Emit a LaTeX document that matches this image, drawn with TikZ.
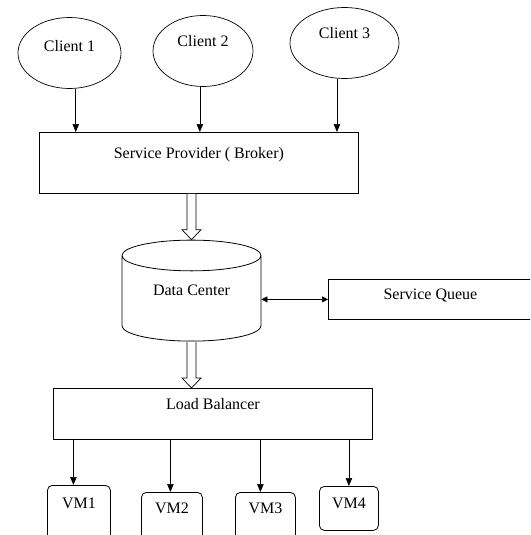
\documentclass[tikz,border=0pt]{standalone}
\usepackage{fontspec}
\setmainfont{Liberation Serif}
\usetikzlibrary{
    arrows.meta,
    shapes.geometric,
    calc,
    positioning
}

\tikzset{
    client/.style={draw, ellipse, line width=0.7pt, minimum height=71pt, inner sep=0pt},
    box/.style={draw, rectangle, line width=0.8pt, anchor=north west, inner sep=0pt},
    vmbox/.style={draw, rectangle, rounded corners=5pt, line width=0.8pt, anchor=north west, inner sep=0pt},
    flow/.style={->, line width=0.7pt}
}

% hollow block arrow, shaft from #1 down to the tip at #2
\newcommand{\blockarrow}[2]{
    \draw[line width=0.7pt, fill=white]
        ($(#1)+(-4.5,0)$) -- ($(#2)+(-4.5,-10)$) -- ($(#2)+(-9.5,-10)$) -- (#2)
        -- ($(#2)+(9.5,-10)$) -- ($(#2)+(4.5,-10)$) -- ($(#1)+(4.5,0)$);
}

\begin{document}
\begin{tikzpicture}[x=1pt, y=-1pt, font=\fontsize{16}{18}\selectfont,
                    >={Triangle[length=8pt, width=6.5pt]}]
    \useasboundingbox (0,0) rectangle (530,535);
    \clip (0,0) rectangle (530,535);

    % clients
    \node[client, minimum width=103pt, label={[yshift=7pt]center:Client 1}] (c1) at (69.5,53) {};
    \node[client, minimum width=100pt, label={[yshift=10pt]center:Client 2}] (c2) at (203,51) {};
    \node[client, minimum width=109pt, label={[yshift=10pt]center:Client 3}] (c3) at (344.5,43) {};

    % broker
    \node[box, minimum width=319pt, minimum height=61pt,
          label={[yshift=8pt]center:Service Provider ( Broker)}] (sp) at (39,132) {};

    \draw[flow] (c1.-80) -- (c1.-80 |- sp.north);
    \draw[flow] (c2.-95) -- (c2.-95 |- sp.north);
    \draw[flow] (c3.-102) -- (c3.-102 |- sp.north);

    % data center and queue (phantom text keeps the caps round)
    \node[draw, cylinder, shape border rotate=90, aspect=0.4, line width=0.8pt,
          minimum width=139pt, minimum height=101pt, inner sep=0pt,
          label={[yshift=8.5pt]center:Data Center}] (dc) at (191.5,298.5) {\phantom{Data Center}};
    \node[box, minimum width=204pt, minimum height=40pt,
          label={[yshift=4pt]center:Service Queue}] (sq) at (328,279) {};
    \draw[<->, line width=0.7pt, >={Triangle[length=6pt, width=6pt]}] (sq.west -| dc.east) -- (sq.west);

    % balancer
    \node[box, minimum width=319pt, minimum height=51pt,
          label={[yshift=10pt]center:Load Balancer}] (lb) at (53,388) {};

    \coordinate (top) at (sp.south -| dc.north);
    \coordinate (bot) at (lb.north -| dc.south);
    \blockarrow{top}{dc.north}
    \blockarrow{dc.south}{bot}

    % virtual machines
    \node[vmbox, minimum width=63pt, minimum height=60pt,
          label={[anchor=center, yshift=-18pt]north:VM1}] (vm1) at (47,485) {};
    \node[vmbox, minimum width=61pt, minimum height=60pt,
          label={[anchor=center, yshift=-16pt]north:VM2}] (vm2) at (141,492) {};
    \node[vmbox, minimum width=60pt, minimum height=60pt,
          label={[anchor=center, yshift=-16pt]north:VM3}] (vm3) at (235,492) {};
    \node[vmbox, minimum width=59pt, minimum height=44pt,
          label={[anchor=center, yshift=-17pt]north:VM4}] (vm4) at (319,486) {};

    \draw[flow] ([xshift=-5.5pt]vm1.north |- lb.south) -- ([xshift=-5.5pt]vm1.north);
    \draw[flow] ([xshift=-1.5pt]vm2.north |- lb.south) -- ([xshift=-1.5pt]vm2.north);
    \draw[flow] ([xshift=-5pt]vm3.north |- lb.south) -- ([xshift=-5pt]vm3.north);
    \draw[flow] (vm4.north |- lb.south) -- (vm4.north);
\end{tikzpicture}
\end{document}
